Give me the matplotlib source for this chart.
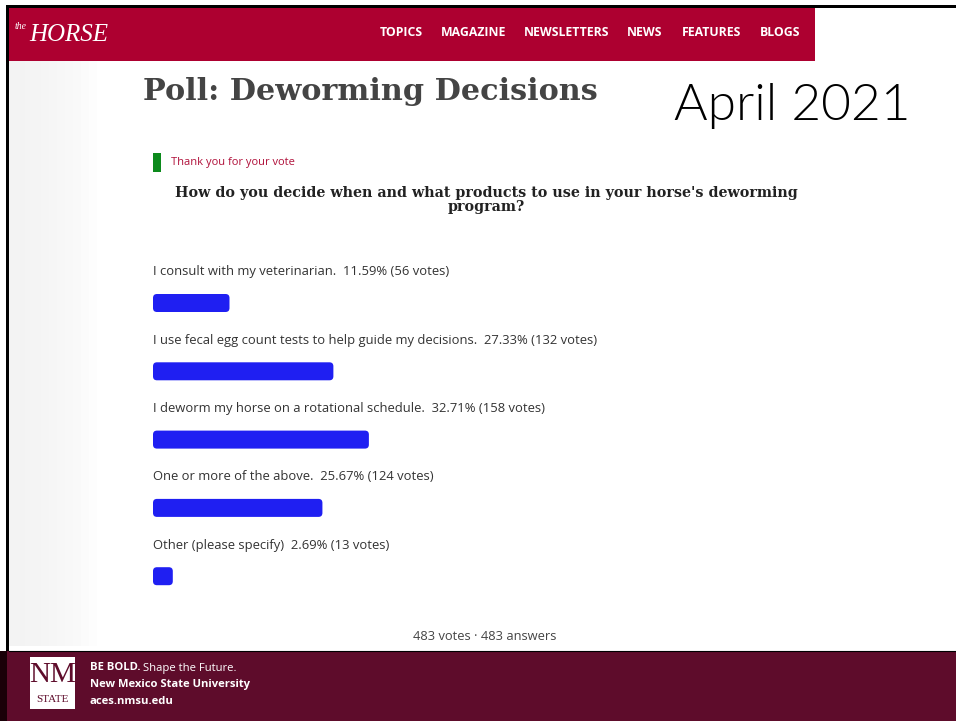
import matplotlib
matplotlib.use("Agg")
import matplotlib.pyplot as plt
from matplotlib.patches import Rectangle, FancyBboxPatch

# poll data
options = [
    "I consult with my veterinarian.",
    "I use fecal egg count tests to help guide my decisions.",
    "I deworm my horse on a rotational schedule.",
    "One or more of the above.",
    "Other (please specify)",
]
percents = [11.59, 27.33, 32.71, 25.67, 2.69]
votes = [56, 132, 158, 124, 13]
total_votes = 483
menu = ["TOPICS", "MAGAZINE", "NEWSLETTERS", "NEWS", "FEATURES", "BLOGS"]

W, H = 956, 721
fig = plt.figure(figsize=(W / 100, H / 100), dpi=100)
ax = fig.add_axes([0, 0, 1, 1])
ax.set_xlim(0, W)
ax.set_ylim(H, 0)
ax.axis("off")

# frame, header, left panel, footer
ax.add_patch(Rectangle((6, 5), W, 3, color="black", lw=0))
ax.add_patch(Rectangle((6, 5), 3, H, color="black", lw=0))
ax.add_patch(Rectangle((9, 8), 806, 53, color="#ad0030", lw=0))
for gx, gc in zip(range(9, 97, 8), ["#f3f3f3", "#f3f3f3", "#f4f4f4", "#f4f4f4", "#f5f5f5",
                                     "#f6f6f6", "#f7f7f7", "#f8f8f8", "#f9f9f9", "#fbfbfb",
                                     "#fdfdfd"]):
    ax.add_patch(Rectangle((gx, 61), 8, 585, color=gc, lw=0))
ax.add_patch(Rectangle((0, 651), W, 70, color="#5e0c2b", lw=0))
ax.add_patch(Rectangle((0, 651), 7, 70, color="#1a0008", lw=0))
ax.plot([9, W], [651, 651], color="black", lw=0.8)

ax.text(15, 29, "the", color="white", fontsize=7, style="italic",
        family="Liberation Serif", va="baseline")
ax.text(29, 41, "HORSE", color="white", fontsize=18, style="italic",
        family="Liberation Serif", va="baseline")
menu_x = [380, 441, 524, 627, 682, 760]
for mx, m in zip(menu_x, menu):
    ax.text(mx, 32, m, color="white", fontsize=8.8, fontweight="bold",
            family="Open Sans", va="center", ha="left")

ax.text(143, 92, "Poll: Deworming Decisions", color="#444444", fontsize=21.8,
        fontweight="bold", family="DejaVu Serif", va="center")
ax.text(792, 106, "April 2021", color="black", fontsize=37, family="Lato",
        fontweight=300, va="center", ha="center")

ax.add_patch(Rectangle((153, 153), 8, 19, color="#0c8a1c", lw=0))
ax.text(171, 163, "Thank you for your vote", color="#b0103a", fontsize=8,
        family="Open Sans", va="center")
ax.text(486, 200, "How do you decide when and what products to use in your horse's deworming\nprogram?",
        color="#222222", fontsize=10.3, fontweight="bold", family="DejaVu Serif",
        va="center", ha="center", linespacing=1.0)

# bars in percent units
bx = fig.add_axes([153 / W, 0, 660 / W, 1])
bx.set_xlim(0, 100)
bx.set_ylim(H, 0)
bx.axis("off")
for i, (opt, p, v) in enumerate(zip(options, percents, votes)):
    ty = 272 + 68.3 * i
    by = ty + 31
    ax.text(153, ty, f"{opt}  {p:.2f}% ({v} votes)", color="#333333",
            fontsize=9.4, family="Open Sans", va="center")
    w = max(p, 3.0)
    bx.add_patch(FancyBboxPatch((0, by - 9), w, 18,
                                boxstyle="round,pad=0,rounding_size=0.6",
                                mutation_aspect=6.6, color="#1f1ff2", lw=0))

ax.text(485, 637, f"{total_votes} votes \u00b7 {total_votes} answers", color="#444444",
        fontsize=9.3, family="Open Sans", va="center", ha="center")

# footer
ax.add_patch(Rectangle((30, 657), 45, 52, color="white", lw=0))
ax.text(52.5, 675, "NM", color="#5e0c2b", fontsize=21, family="Liberation Serif",
        va="center", ha="center")
ax.text(52.5, 699, "STATE", color="#5e0c2b", fontsize=8, family="Liberation Serif",
        va="center", ha="center")
bold = ax.text(90, 668, "BE BOLD.", color="white", fontsize=8.1, fontweight="bold",
               family="Open Sans", va="center")
fig.canvas.draw()
bb = bold.get_window_extent()
ax.text(90 + bb.width + 3, 668, "Shape the Future.", color="white", fontsize=8.1,
        family="Open Sans", va="center")
ax.text(90, 685, "New Mexico State University", color="white", fontsize=8.1,
        fontweight="bold", family="Open Sans", va="center")
ax.text(90, 702, "aces.nmsu.edu", color="white", fontsize=8.1, fontweight="bold",
        family="Open Sans", va="center")

fig.savefig("out.png", dpi=100)
